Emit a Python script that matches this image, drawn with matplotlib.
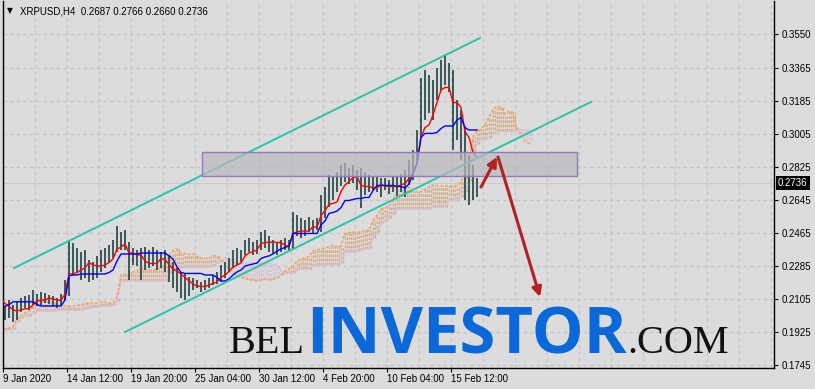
import numpy as np
import pandas as pd
import matplotlib
matplotlib.use("Agg")
import matplotlib.pyplot as plt
import matplotlib.transforms as mtransforms
from matplotlib.patches import Rectangle, FancyArrowPatch

# ---------------- data ----------------
title_text = "XRPUSD,H4  0.2687 0.2766 0.2660 0.2736"
last_close = 0.2736

# bars before the visible window (feed the Ichimoku cloud at the left edge)
pre_high = [0.1935, 0.1948, 0.1942, 0.1955, 0.1950, 0.1962, 0.1958, 0.1945, 0.1952, 0.1968,
            0.1975, 0.1970, 0.1985, 0.1990, 0.1982, 0.2005, 0.2080, 0.2120, 0.2150, 0.2135,
            0.2180, 0.2200, 0.2170, 0.2140, 0.2110, 0.2090]
pre_low = [0.1880, 0.1892, 0.1885, 0.1898, 0.1902, 0.1905, 0.1895, 0.1890, 0.1900, 0.1912,
           0.1920, 0.1918, 0.1930, 0.1938, 0.1930, 0.1948, 0.1990, 0.2050, 0.2080, 0.2070,
           0.2100, 0.2120, 0.2090, 0.2060, 0.2040, 0.2020]

bar_high = [0.2067, 0.2100, 0.2072, 0.2089, 0.2111, 0.2122, 0.2127, 0.2154, 0.2132, 0.2143,
            0.2138, 0.2127, 0.2122, 0.2111, 0.2132, 0.2209, 0.2427, 0.2411, 0.2383, 0.2362,
            0.2372, 0.2318, 0.2307, 0.2340, 0.2372, 0.2383, 0.2400, 0.2427, 0.2503, 0.2471,
            0.2482, 0.2416, 0.2383, 0.2372, 0.2383, 0.2389, 0.2372, 0.2389, 0.2372, 0.2362,
            0.2372, 0.2345, 0.2307, 0.2274, 0.2252, 0.2247, 0.2225, 0.2220, 0.2209, 0.2198,
            0.2209, 0.2220, 0.2236, 0.2252, 0.2291, 0.2307, 0.2329, 0.2372, 0.2383, 0.2372,
            0.2427, 0.2438, 0.2416, 0.2427, 0.2471, 0.2482, 0.2449, 0.2427, 0.2416, 0.2427,
            0.2438, 0.2427, 0.2580, 0.2563, 0.2547, 0.2536, 0.2553, 0.2536, 0.2547, 0.2673,
            0.2716, 0.2782, 0.2776, 0.2798, 0.2836, 0.2847, 0.2820, 0.2836, 0.2809, 0.2820,
            0.2798, 0.2782, 0.2771, 0.2776, 0.2765, 0.2765, 0.2754, 0.2771, 0.2776, 0.2787,
            0.2809, 0.2863, 0.2918, 0.3027, 0.3311, 0.3355, 0.3327, 0.3300, 0.3365, 0.3409,
            0.3436, 0.3393, 0.3355, 0.3191, 0.3136, 0.3044, 0.2891, 0.2836, 0.2766]
bar_low = [0.1991, 0.2001, 0.1980, 0.1991, 0.2034, 0.2056, 0.2045, 0.2072, 0.2067, 0.2072,
           0.2083, 0.2078, 0.2067, 0.2056, 0.2072, 0.2100, 0.2122, 0.2236, 0.2252, 0.2209,
           0.2220, 0.2198, 0.2209, 0.2220, 0.2252, 0.2274, 0.2307, 0.2329, 0.2362, 0.2372,
           0.2372, 0.2209, 0.2291, 0.2285, 0.2209, 0.2263, 0.2274, 0.2285, 0.2263, 0.2274,
           0.2252, 0.2198, 0.2165, 0.2143, 0.2111, 0.2100, 0.2122, 0.2154, 0.2165, 0.2143,
           0.2154, 0.2165, 0.2181, 0.2187, 0.2198, 0.2220, 0.2252, 0.2274, 0.2291, 0.2307,
           0.2345, 0.2362, 0.2345, 0.2351, 0.2372, 0.2383, 0.2362, 0.2351, 0.2345, 0.2362,
           0.2372, 0.2372, 0.2372, 0.2449, 0.2438, 0.2449, 0.2471, 0.2460, 0.2482, 0.2471,
           0.2547, 0.2607, 0.2645, 0.2689, 0.2722, 0.2743, 0.2733, 0.2738, 0.2700, 0.2602,
           0.2673, 0.2689, 0.2700, 0.2689, 0.2662, 0.2700, 0.2678, 0.2689, 0.2667, 0.2689,
           0.2662, 0.2727, 0.2754, 0.2863, 0.2989, 0.3082, 0.3120, 0.3082, 0.3191, 0.3245,
           0.3273, 0.3234, 0.2918, 0.2973, 0.2863, 0.2645, 0.2618, 0.2645, 0.2660]

x_tick_labels = ["9 Jan 2020", "14 Jan 12:00", "19 Jan 20:00", "25 Jan 04:00",
                 "30 Jan 12:00", "4 Feb 20:00", "10 Feb 04:00", "15 Feb 12:00"]
y_ticks = [0.3550, 0.3365, 0.3185, 0.3005, 0.2825, 0.2645, 0.2465, 0.2285, 0.2105, 0.1925, 0.1745]
y_tick_labels = ["0.3550", "0.3365", "0.3185", "0.3005", "0.2825", "0.2645",
                 "0.2465", "0.2285", "0.2105", "0.1925", "0.1745"]

# drawn objects: (H4 bar index, price)
channel_upper = [(5.5, 0.2274), (238.5, 0.3529)]
channel_lower = [(61.0, 0.1925), (294.0, 0.3180)]
zone_t = [99.5, 287.0]
zone_price = [0.2776, 0.2907]
arrow_up = [(239.0, 0.2716), (247.0, 0.2880)]
arrow_down = [(247.5, 0.2880), (268.5, 0.2116)]

# ---------------- Ichimoku ----------------
high = pd.Series(pre_high + bar_high)
low = pd.Series(pre_low + bar_low)
n_pre = len(pre_high)
step = 2          # each drawn bar spans two H4 slots
shift = 13        # cloud shift in drawn bars


def mid(n):
    return (high.rolling(n, min_periods=1).max() + low.rolling(n, min_periods=1).min()) / 2


tenkan = mid(5)
kijun = mid(13)
span_a = (tenkan + kijun) / 2
span_b = mid(26)
tpos = 1 + step * (np.arange(len(high)) - n_pre)
cloud_t = tpos + step * shift

# ---------------- figure ----------------
BG = "#DCDCDC"
W, H = 815, 389
fig = plt.figure(figsize=(W / 100, H / 100), dpi=100, facecolor=BG)
ax = fig.add_axes([3 / W, 21 / H, 771 / W, 367 / H], facecolor=BG)
ymin = 0.1745 - 3 / 1833
ymax = 0.1745 + 364 / 1833
ax.set_xlim(0, 385.5)
ax.set_ylim(ymin, ymax)

# grid
for t in np.arange(16, 386, 16):
    ax.axvline(t, color="#C4C4C4", lw=0.8, ls=(0, (3, 3)), zorder=0)
for v in y_ticks:
    ax.axhline(v, color="#C4C4C4", lw=0.8, ls=(0, (3, 3)), zorder=0)
ax.axhline(last_close, color="#CACACA", lw=0.8, zorder=0.5)

# cloud hatching
for k in range(len(high)):
    a, b = span_a[k], span_b[k]
    col = "#F4A460" if a >= b else "#D8BFD8"
    for off in (0, 1):
        ax.vlines(cloud_t[k] + off, min(a, b), max(a, b), colors=col, lw=1.0,
                  linestyles=(0, (2.0, 1.0)), zorder=1)
ax.plot(cloud_t, span_b, color="#D8BFD8", lw=1.0, zorder=1.2)
ax.plot(cloud_t, span_a, color="#F4A460", lw=1.1, ls=(0, (2, 1)), zorder=1.3)

# bars
vis = tpos > -1
ax.vlines(tpos[vis], low[vis], high[vis], colors="#2F4F4F", lw=1.3, zorder=2)

# tenkan / kijun
ax.plot(tpos, tenkan, color="#FF0000", lw=1.0, zorder=3)
ax.plot(tpos, kijun, color="#0000FF", lw=1.0, zorder=3)

# channel
for ch in (channel_upper, channel_lower):
    ax.plot([p[0] for p in ch], [p[1] for p in ch], color="#2BC4A6", lw=1.4, zorder=4)

# zone rectangle
ax.add_patch(Rectangle((zone_t[0], zone_price[0]), zone_t[1] - zone_t[0],
                       zone_price[1] - zone_price[0], facecolor="#B8B8BF", alpha=0.72,
                       edgecolor="none", zorder=5))
ax.add_patch(Rectangle((zone_t[0], zone_price[0]), zone_t[1] - zone_t[0],
                       zone_price[1] - zone_price[0], facecolor="none",
                       edgecolor="#9678C0", lw=1.0, zorder=5.1))

# arrows
for arr in (arrow_up, arrow_down):
    ax.add_patch(FancyArrowPatch(arr[0], arr[1], arrowstyle="-|>", mutation_scale=14,
                                 color="#B22222", lw=2.2, zorder=6, shrinkA=0, shrinkB=0))

# axes cosmetics
for s in ("left", "bottom", "right"):
    ax.spines[s].set_color("black")
    ax.spines[s].set_linewidth(1.0)
ax.spines["top"].set_visible(False)

tick_font = dict(family=["Liberation Sans", "DejaVu Sans"], size=7)
ax.set_xticks(np.arange(0, 32 * len(x_tick_labels), 32))
ax.set_xticklabels(x_tick_labels, ha="left", **tick_font)
ax.tick_params(axis="x", direction="out", length=3, width=0.8, pad=1.5, colors="black")
ax.yaxis.tick_right()
ax.set_yticks(y_ticks)
ax.set_yticklabels(y_tick_labels, **tick_font)
ax.tick_params(axis="y", direction="out", length=3, width=0.8, pad=2.5, colors="black")

# last price label
trans = mtransforms.blended_transform_factory(ax.transAxes, ax.transData)
ax.text(1 + 4 / 771, last_close, "0.2736", transform=trans, ha="left", va="center",
        color="white", clip_on=False, zorder=10,
        bbox=dict(boxstyle="square,pad=0.2", fc="black", ec="none"), **tick_font)

# title
ax.text(4 / 771, 1 - 10 / 367, "\u25BC", transform=ax.transAxes, ha="left", va="center",
        fontsize=5.5, family=["DejaVu Sans"], color="black", zorder=10)
ax.text(17 / 771, 1 - 10 / 367, title_text, transform=ax.transAxes, ha="left", va="center",
        color="black", zorder=10, **tick_font)

# watermark
base_y = (H - 353) / H
t_inv = fig.text(466 / W, base_y, "INVESTOR", ha="center", va="baseline",
                 family=["Open Sans", "DejaVu Sans"], weight="bold", size=47,
                 color="#0A68D8", zorder=20)
fig.canvas.draw()
bb = t_inv.get_window_extent()
fig.text((bb.x0 - 1) / W, base_y, "BEL", ha="right", va="baseline",
         family=["Liberation Serif", "DejaVu Serif"], size=29, color="#111111", zorder=20)
fig.text((bb.x1 + 1) / W, base_y, ".COM", ha="left", va="baseline",
         family=["Liberation Serif", "DejaVu Serif"], size=29, color="#111111", zorder=20)

fig.savefig("out.png", dpi=100, facecolor=BG)
